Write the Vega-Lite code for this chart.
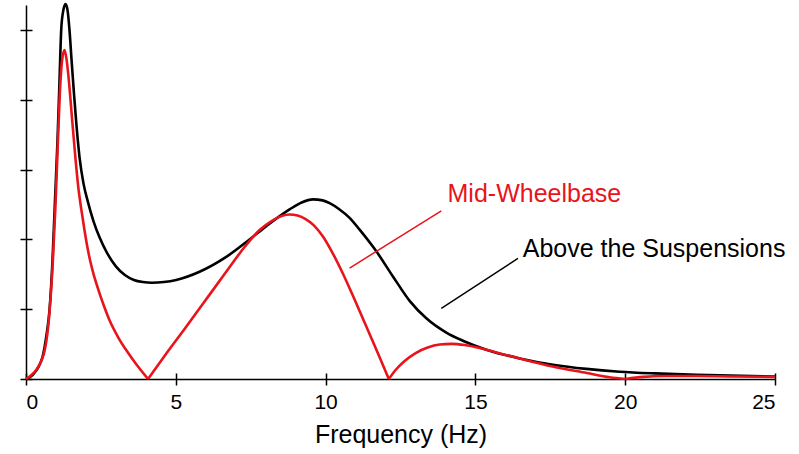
{
  "$schema": "https://vega.github.io/schema/vega-lite/v6.json",
  "width": 749,
  "height": 374,
  "autosize": {"type": "none"},
  "padding": {"left": 26, "top": 5, "right": 24, "bottom": 75},
  "background": "white",
  "config": {
    "view": {"stroke": null},
    "font": "Liberation Sans",
    "axis": {
      "domainColor": "black",
      "domainWidth": 1.5,
      "tickColor": "black",
      "tickWidth": 1.5,
      "tickSize": 6,
      "grid": true,
      "gridColor": "black",
      "gridWidth": 1.5,
      "labelColor": "black",
      "titleColor": "black",
      "labelFont": "Liberation Sans",
      "titleFont": "Liberation Sans"
    }
  },
  "datasets": {
    "curves": [
      {"series": "Above", "seg": "a", "f": 0, "v": 0},
      {"series": "Above", "seg": "a", "f": 0.217, "v": 0.057},
      {"series": "Above", "seg": "a", "f": 0.551, "v": 0.315},
      {"series": "Above", "seg": "a", "f": 0.684, "v": 0.63},
      {"series": "Above", "seg": "a", "f": 0.785, "v": 0.989},
      {"series": "Above", "seg": "a", "f": 0.885, "v": 1.705},
      {"series": "Above", "seg": "a", "f": 0.968, "v": 2.564},
      {"series": "Above", "seg": "a", "f": 1.052, "v": 3.424},
      {"series": "Above", "seg": "a", "f": 1.119, "v": 4.284},
      {"series": "Above", "seg": "a", "f": 1.175, "v": 5.0},
      {"series": "Above", "seg": "a", "f": 1.235, "v": 5.258},
      {"series": "Above", "seg": "a", "f": 1.319, "v": 5.372},
      {"series": "Above", "seg": "a", "f": 1.386, "v": 5.287},
      {"series": "Above", "seg": "a", "f": 1.452, "v": 5.0},
      {"series": "Above", "seg": "a", "f": 1.519, "v": 4.58},
      {"series": "Above", "seg": "a", "f": 1.603, "v": 4.08},
      {"series": "Above", "seg": "a", "f": 1.676, "v": 3.68},
      {"series": "Above", "seg": "a", "f": 1.786, "v": 3.18},
      {"series": "Above", "seg": "a", "f": 1.92, "v": 2.8},
      {"series": "Above", "seg": "a", "f": 2.053, "v": 2.56},
      {"series": "Above", "seg": "a", "f": 2.254, "v": 2.26},
      {"series": "Above", "seg": "a", "f": 2.454, "v": 2.03},
      {"series": "Above", "seg": "a", "f": 2.7, "v": 1.81},
      {"series": "Above", "seg": "a", "f": 3.0, "v": 1.615},
      {"series": "Above", "seg": "a", "f": 3.3, "v": 1.49},
      {"series": "Above", "seg": "a", "f": 3.6, "v": 1.42},
      {"series": "Above", "seg": "a", "f": 3.9, "v": 1.39},
      {"series": "Above", "seg": "a", "f": 4.2, "v": 1.38},
      {"series": "Above", "seg": "a", "f": 4.6, "v": 1.39},
      {"series": "Above", "seg": "a", "f": 5.015, "v": 1.42},
      {"series": "Above", "seg": "a", "f": 5.793, "v": 1.537},
      {"series": "Above", "seg": "a", "f": 6.684, "v": 1.75},
      {"series": "Above", "seg": "a", "f": 7.462, "v": 2.0},
      {"series": "Above", "seg": "a", "f": 8.02, "v": 2.19},
      {"series": "Above", "seg": "a", "f": 8.798, "v": 2.43},
      {"series": "Above", "seg": "a", "f": 9.2, "v": 2.53},
      {"series": "Above", "seg": "a", "f": 9.576, "v": 2.575},
      {"series": "Above", "seg": "a", "f": 9.9, "v": 2.56},
      {"series": "Above", "seg": "a", "f": 10.134, "v": 2.52},
      {"series": "Above", "seg": "a", "f": 10.467, "v": 2.43},
      {"series": "Above", "seg": "a", "f": 10.801, "v": 2.31},
      {"series": "Above", "seg": "a", "f": 11.135, "v": 2.14},
      {"series": "Above", "seg": "a", "f": 11.693, "v": 1.83},
      {"series": "Above", "seg": "a", "f": 12.247, "v": 1.47},
      {"series": "Above", "seg": "a", "f": 12.805, "v": 1.12},
      {"series": "Above", "seg": "a", "f": 13.362, "v": 0.87},
      {"series": "Above", "seg": "a", "f": 14.03, "v": 0.665},
      {"series": "Above", "seg": "a", "f": 14.6, "v": 0.545},
      {"series": "Above", "seg": "a", "f": 15.366, "v": 0.42},
      {"series": "Above", "seg": "a", "f": 16.477, "v": 0.295},
      {"series": "Above", "seg": "a", "f": 17.589, "v": 0.205},
      {"series": "Above", "seg": "a", "f": 18.705, "v": 0.145},
      {"series": "Above", "seg": "a", "f": 19.816, "v": 0.105},
      {"series": "Above", "seg": "a", "f": 21, "v": 0.08},
      {"series": "Above", "seg": "a", "f": 22.387, "v": 0.06},
      {"series": "Above", "seg": "a", "f": 25, "v": 0.035},

      {"series": "Mid", "seg": "m1", "f": 0, "v": 0},
      {"series": "Mid", "seg": "m1", "f": 0.551, "v": 0.3},
      {"series": "Mid", "seg": "m1", "f": 0.785, "v": 0.96},
      {"series": "Mid", "seg": "m1", "f": 0.895, "v": 1.676},
      {"series": "Mid", "seg": "m1", "f": 0.985, "v": 2.5},
      {"series": "Mid", "seg": "m1", "f": 1.06, "v": 3.35},
      {"series": "Mid", "seg": "m1", "f": 1.13, "v": 4.1},
      {"series": "Mid", "seg": "m1", "f": 1.2, "v": 4.55},
      {"series": "Mid", "seg": "m1", "f": 1.285, "v": 4.713},
      {"series": "Mid", "seg": "m1", "f": 1.352, "v": 4.585},
      {"series": "Mid", "seg": "m1", "f": 1.429, "v": 4.285},
      {"series": "Mid", "seg": "m1", "f": 1.486, "v": 4.0},
      {"series": "Mid", "seg": "m1", "f": 1.543, "v": 3.7},
      {"series": "Mid", "seg": "m1", "f": 1.653, "v": 3.15},
      {"series": "Mid", "seg": "m1", "f": 1.753, "v": 2.72},
      {"series": "Mid", "seg": "m1", "f": 1.85, "v": 2.42},
      {"series": "Mid", "seg": "m1", "f": 1.95, "v": 2.14},
      {"series": "Mid", "seg": "m1", "f": 2.053, "v": 1.88},
      {"series": "Mid", "seg": "m1", "f": 2.15, "v": 1.68},
      {"series": "Mid", "seg": "m1", "f": 2.25, "v": 1.51},
      {"series": "Mid", "seg": "m1", "f": 2.4, "v": 1.3},
      {"series": "Mid", "seg": "m1", "f": 2.6, "v": 1.05},
      {"series": "Mid", "seg": "m1", "f": 2.8, "v": 0.83},
      {"series": "Mid", "seg": "m1", "f": 3.1, "v": 0.58},
      {"series": "Mid", "seg": "m1", "f": 3.4, "v": 0.38},
      {"series": "Mid", "seg": "m1", "f": 3.7, "v": 0.2},
      {"series": "Mid", "seg": "m1", "f": 4.073, "v": 0},
      {"series": "Mid", "seg": "m2", "f": 4.073, "v": 0},
      {"series": "Mid", "seg": "m2", "f": 4.624, "v": 0.33},
      {"series": "Mid", "seg": "m2", "f": 5.292, "v": 0.716},
      {"series": "Mid", "seg": "m2", "f": 5.96, "v": 1.11},
      {"series": "Mid", "seg": "m2", "f": 6.628, "v": 1.504},
      {"series": "Mid", "seg": "m2", "f": 7.295, "v": 1.891},
      {"series": "Mid", "seg": "m2", "f": 7.796, "v": 2.135},
      {"series": "Mid", "seg": "m2", "f": 8.197, "v": 2.264},
      {"series": "Mid", "seg": "m2", "f": 8.531, "v": 2.335},
      {"series": "Mid", "seg": "m2", "f": 8.798, "v": 2.357},
      {"series": "Mid", "seg": "m2", "f": 9.065, "v": 2.342},
      {"series": "Mid", "seg": "m2", "f": 9.332, "v": 2.292},
      {"series": "Mid", "seg": "m2", "f": 9.599, "v": 2.206},
      {"series": "Mid", "seg": "m2", "f": 9.9, "v": 2.049},
      {"series": "Mid", "seg": "m2", "f": 10.234, "v": 1.805},
      {"series": "Mid", "seg": "m2", "f": 10.568, "v": 1.519},
      {"series": "Mid", "seg": "m2", "f": 10.902, "v": 1.203},
      {"series": "Mid", "seg": "m2", "f": 11.236, "v": 0.874},
      {"series": "Mid", "seg": "m2", "f": 11.569, "v": 0.544},
      {"series": "Mid", "seg": "m2", "f": 11.87, "v": 0.244},
      {"series": "Mid", "seg": "m2", "f": 12.11, "v": 0},
      {"series": "Mid", "seg": "m3", "f": 12.11, "v": 0},
      {"series": "Mid", "seg": "m3", "f": 12.337, "v": 0.129},
      {"series": "Mid", "seg": "m3", "f": 12.638, "v": 0.258},
      {"series": "Mid", "seg": "m3", "f": 13.005, "v": 0.372},
      {"series": "Mid", "seg": "m3", "f": 13.406, "v": 0.451},
      {"series": "Mid", "seg": "m3", "f": 13.806, "v": 0.494},
      {"series": "Mid", "seg": "m3", "f": 14.207, "v": 0.504},
      {"series": "Mid", "seg": "m3", "f": 14.641, "v": 0.487},
      {"series": "Mid", "seg": "m3", "f": 15.142, "v": 0.444},
      {"series": "Mid", "seg": "m3", "f": 15.643, "v": 0.387},
      {"series": "Mid", "seg": "m3", "f": 16.477, "v": 0.294},
      {"series": "Mid", "seg": "m3", "f": 17.579, "v": 0.179},
      {"series": "Mid", "seg": "m3", "f": 18.715, "v": 0.086},
      {"series": "Mid", "seg": "m3", "f": 19.482, "v": 0.024},
      {"series": "Mid", "seg": "m3", "f": 20.017, "v": 0},
      {"series": "Mid", "seg": "m4", "f": 20.017, "v": 0},
      {"series": "Mid", "seg": "m4", "f": 20.6, "v": 0.03},
      {"series": "Mid", "seg": "m4", "f": 21.3, "v": 0.043},
      {"series": "Mid", "seg": "m4", "f": 22.4, "v": 0.042},
      {"series": "Mid", "seg": "m4", "f": 23.5, "v": 0.036},
      {"series": "Mid", "seg": "m4", "f": 25, "v": 0.03}
    ],
    "leaders": [
      {"series": "Mid", "f1": 10.801, "v1": 1.59, "f2": 13.863, "v2": 2.411},
      {"series": "Above", "f1": 13.863, "v1": 1.013, "f2": 16.421, "v2": 1.729}
    ],
    "labels": [
      {"series": "Mid", "f": 14.07, "v": 2.536, "text": "Mid-Wheelbase"},
      {"series": "Above", "f": 16.58, "v": 1.748, "text": "Above the Suspensions"}
    ]
  },
  "layer": [
    {
      "data": {"name": "curves"},
      "mark": {"type": "line", "interpolate": "monotone", "strokeWidth": 2.6},
      "encoding": {
        "x": {
          "field": "f", "type": "quantitative",
          "scale": {"domain": [0, 25], "nice": false},
          "axis": {
            "values": [0, 5, 10, 15, 20, 25],
            "title": "Frequency (Hz)",
            "gridDash": [0, 368, 6, 2000],
            "labelFontSize": 21,
            "labelPadding": 6,
            "titleFontSize": 25,
            "titleFontWeight": "normal",
            "titlePadding": 10
          }
        },
        "y": {
          "field": "v", "type": "quantitative",
          "scale": {"domain": [0, 5.36], "nice": false},
          "axis": {"values": [0, 1, 2, 3, 4, 5], "labels": false, "title": null, "gridDash": [6, 2000]}
        },
        "color": {
          "field": "series", "type": "nominal",
          "scale": {"domain": ["Above", "Mid"], "range": ["#000000", "#e8141c"]},
          "legend": null
        },
        "detail": {"field": "seg"},
        "order": {"field": "f", "type": "quantitative"}
      }
    },
    {
      "data": {"name": "leaders"},
      "mark": {"type": "rule", "strokeWidth": 1.5},
      "encoding": {
        "x": {"field": "f1", "type": "quantitative"},
        "y": {"field": "v1", "type": "quantitative"},
        "x2": {"field": "f2"},
        "y2": {"field": "v2"},
        "color": {"field": "series", "type": "nominal", "legend": null}
      }
    },
    {
      "data": {"name": "labels"},
      "mark": {"type": "text", "align": "left", "baseline": "alphabetic", "fontSize": 25, "font": "Liberation Sans"},
      "encoding": {
        "x": {"field": "f", "type": "quantitative"},
        "y": {"field": "v", "type": "quantitative"},
        "text": {"field": "text"},
        "color": {"field": "series", "type": "nominal", "legend": null}
      }
    }
  ]
}
